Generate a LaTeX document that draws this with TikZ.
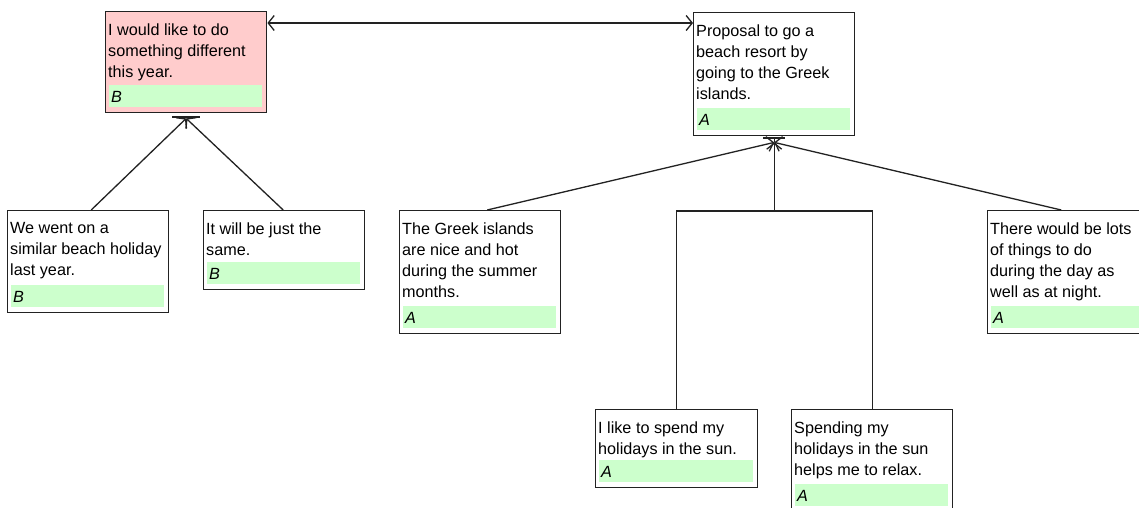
\documentclass[tikz,border=0pt]{standalone}
\usepackage{fontspec}
\setmainfont{Liberation Sans}
\usetikzlibrary{calc,arrows.meta}
\definecolor{pinkbg}{HTML}{FFCCCC}
\definecolor{greenbg}{HTML}{CCFFCC}
\definecolor{edge}{HTML}{222222}
\tikzset{
  card/.style={draw=edge, line width=1.4pt, fill=white, anchor=north west, inner sep=0pt},
  pinkcard/.style={card, fill=pinkbg},
  txt/.style={anchor=north west, inner sep=0pt, align=left, font=\fontsize{16.2}{21}\selectfont},
  tagtxt/.style={anchor=base west, inner sep=0pt, font=\fontsize{16.2}{21}\selectfont\itshape},
  tagstrip/.style={fill=greenbg},
  link/.style={line width=1.3pt, draw=edge},
  barb/.tip={Straight Barb[length=6pt,width=15pt]},
}
\begin{document}
\begin{tikzpicture}[x=1pt,y=1pt]
\useasboundingbox[fill=white] (0,0) rectangle (1139,-508);

% boxes
\node[pinkcard, minimum width=161pt, minimum height=101pt] (b1) at (105,-11) {};
\node[card, minimum width=161pt, minimum height=123pt] (b2) at (693,-12) {};
\node[card, minimum width=161pt, minimum height=102pt] (b3) at (7,-210) {};
\node[card, minimum width=161pt, minimum height=79pt] (b4) at (203,-210) {};
\node[card, minimum width=161pt, minimum height=123pt] (b5) at (399,-210) {};
\node[card, minimum width=161pt, minimum height=123pt] (b6) at (987,-210) {};
\node[card, minimum width=162pt, minimum height=78pt] (b7) at (595,-409) {};
\node[card, minimum width=161pt, minimum height=102pt] (b8) at (791,-409) {};

% green strips and tags
\foreach \b/\t in {b1/B,b2/A,b3/B,b4/B,b5/A,b6/A,b7/A,b8/A}{
  \fill[tagstrip] ($(\b.south west)+(4,6)$) rectangle ($(\b.south east)+(-5,28)$);
  \node[tagtxt] (\b t) at ($(\b.south west)+(6,11)$) {\t};
}

% texts
\node[txt] (b1x) at ($(b1.north west)+(3,-12.2)$) {I would like to do\\something different\\this year.};
\node[txt] (b2x) at ($(b2.north west)+(3,-12.2)$) {Proposal to go a\\beach resort by\\going to the Greek\\islands.};
\node[txt] (b3x) at ($(b3.north west)+(3,-12.2)$) {We went on a\\similar beach holiday\\last year.};
\node[txt] (b4x) at ($(b4.north west)+(3,-12.2)$) {It will be just the\\same.};
\node[txt] (b5x) at ($(b5.north west)+(3,-12.2)$) {The Greek islands\\are nice and hot\\during the summer\\months.};
\node[txt] (b6x) at ($(b6.north west)+(3,-12.2)$) {There would be lots\\of things to do\\during the day as\\well as at night.};
\node[txt] (b7x) at ($(b7.north west)+(3,-12.2)$) {I like to spend my\\holidays in the sun.};
\node[txt] (b8x) at ($(b8.north west)+(3,-12.2)$) {Spending my\\holidays in the sun\\helps me to relax.};

% top double arrow
\coordinate (a1) at ($(b1.north east)+(0,-12)$);
\coordinate (a2) at ($(b2.north west)+(0,-11)$);
\draw[link, {barb}-{barb}] (a1) -- (a2);

% left junction
\coordinate (j1) at ($(b1.south)+(0,-5)$);
\draw[link, -{barb}] ($(b3.north)+(3,0)$) -- (j1);
\draw[link, -{barb}] ($(b4.north)+(-1,0)$) -- (j1);
\draw[link, -{Bar[width=28pt]}] (j1) -- ($(b1.south)+(0,-3)$);

% right junction
\coordinate (j2) at ($(b2.south)+(0,-6)$);
\coordinate (m) at ($(j2 |- b5.north)+(0,-1)$);
\draw[link, -{barb}] ($(b5.north)+(7,0)$) -- (j2);
\draw[link, -{barb}] ($(b6.north)+(-7,0)$) -- (j2);
\draw[link] (b7.north) |- (m) -| (b8.north);
\draw[link, -{barb}] (m) -- (j2);
\draw[link, -{Bar[width=22pt]}] (j2) -- ($(b2.south)+(0,-1)$);
\end{tikzpicture}
\end{document}
